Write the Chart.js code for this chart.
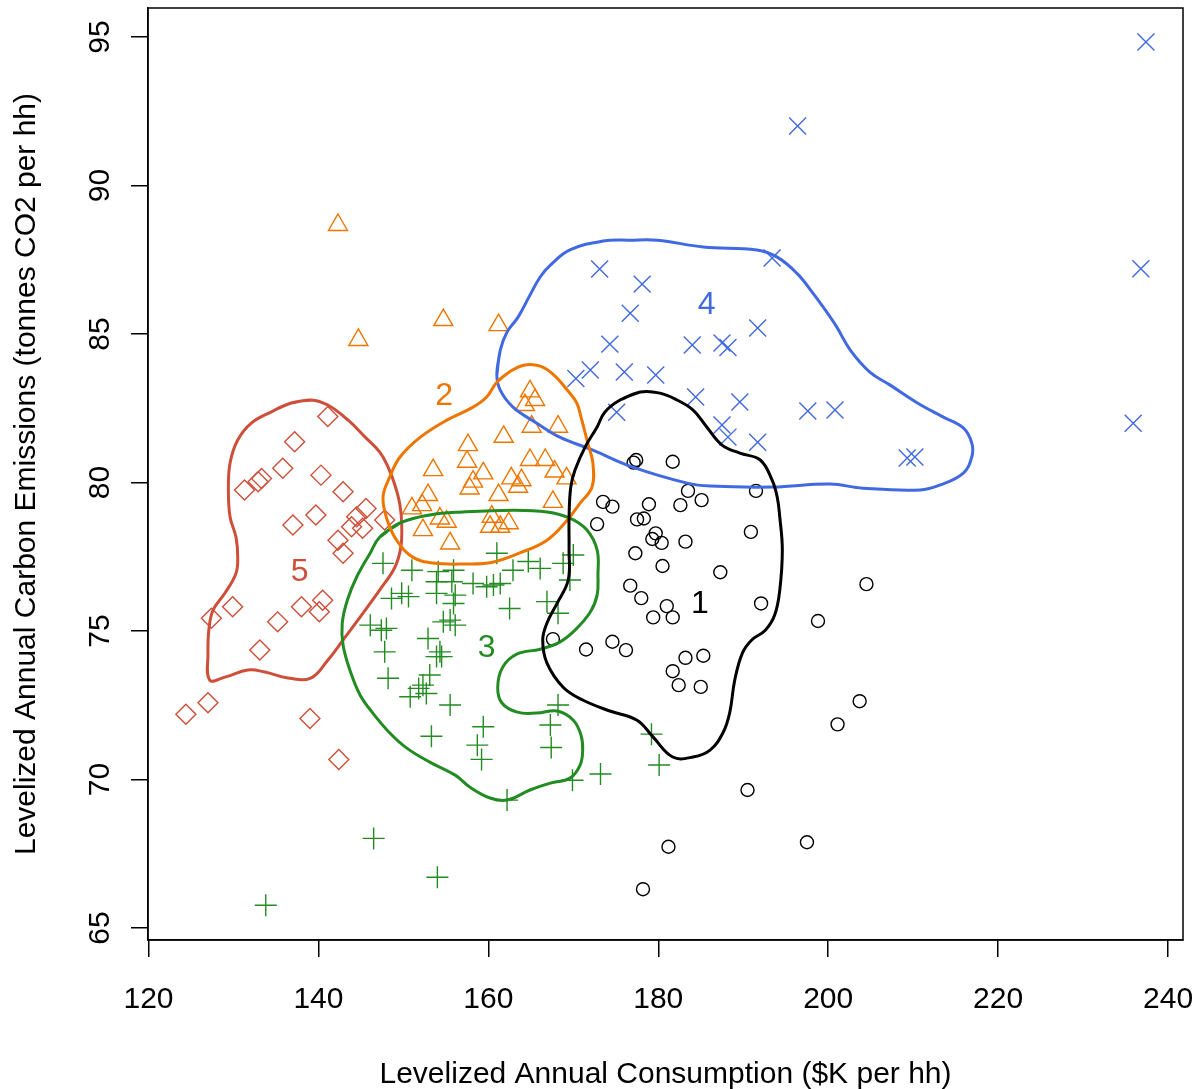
<!DOCTYPE html>
<html>
<head>
<meta charset="utf-8">
<script src="https://cdn.jsdelivr.net/npm/chart.js@4.4.1/dist/chart.umd.min.js"></script>
<style>
    html, body { margin: 0; padding: 0; background: #fff; }
</style>
</head>
<body>
<canvas id="cluster-chart" width="1195" height="1089"></canvas>
<script>
// axis ticks
const xTicks = [120, 140, 160, 180, 200, 220, 240]
const yTicks = [65, 70, 75, 80, 85, 90, 95]

// cluster names, label positions (data units) and colours
const clusterNames = ['1', '2', '3', '4', '5']
const labelX = [184.9, 154.8, 159.8, 185.7, 137.8]
const labelY = [75.91, 82.91, 74.43, 85.98, 76.99]
const clusterColors = ['#000000', '#EE7600', '#228B22', '#4169E1', '#CD4F39']
const pointStyles = ['circle', 'triangle', 'cross', 'crossRot', 'rectRot']
const pointSizes = [6.5, 11, 11, 12, 10]

// households, [consumption, emissions]
const points1 = [
    [177.4, 80.76], [177.1, 80.67], [181.7, 80.70], [183.5, 79.72], [185.1, 79.41], [182.6, 79.24],
    [191.5, 79.72], [173.5, 79.35], [174.6, 79.19], [178.9, 79.27], [177.5, 78.76], [178.3, 78.79],
    [172.8, 78.6], [179.7, 78.29], [179.3, 78.1], [180.4, 77.97], [183.2, 78.01], [190.9, 78.34],
    [177.3, 77.62], [180.5, 77.19], [187.3, 76.98], [176.7, 76.53], [178.0, 76.11], [181.0, 75.84],
    [179.4, 75.46], [181.7, 75.46], [192.1, 75.93], [174.6, 74.64], [176.2, 74.36], [171.5, 74.38],
    [183.2, 74.1], [185.3, 74.17], [181.7, 73.65], [182.4, 73.18], [185.0, 73.12], [198.8, 75.34],
    [203.7, 72.64], [201.1, 71.86], [190.5, 69.65], [181.2, 67.74], [197.5, 67.89], [178.2, 66.31],
    [204.5, 76.58], [167.6, 74.73]
]
const points2 = [
    [142.3, 88.67], [144.7, 84.8], [154.7, 85.47], [161.2, 85.3], [164.9, 83.07], [165.5, 82.78],
    [164.3, 82.61], [165.1, 81.88], [168.2, 81.88], [161.8, 81.54], [157.6, 81.26], [157.5, 80.70],
    [153.5, 80.42], [164.9, 80.76], [166.7, 80.76], [159.4, 80.31], [167.8, 80.37], [169.2, 80.14],
    [158.2, 80.03], [162.7, 80.14], [163.9, 80.08], [163.5, 79.86], [161.2, 79.58], [157.8, 79.80],
    [152.9, 79.58], [152.2, 79.24], [151.0, 79.13], [167.6, 79.35], [154.3, 78.79], [155.1, 78.68],
    [152.3, 78.4], [160.4, 78.85], [160.2, 78.51], [161.4, 78.51], [162.4, 78.63], [155.5, 77.95]
]
const points3 = [
    [161.0, 77.62], [147.6, 77.28], [151.0, 77.05], [154.1, 77.0], [155.9, 77.05], [162.9, 77.05],
    [166.1, 77.11], [168.8, 77.28], [170.0, 77.56], [153.9, 76.66], [155.7, 76.66], [158.2, 76.60],
    [160.6, 76.55], [159.8, 76.49], [161.4, 76.6], [164.7, 77.34], [149.8, 76.27], [148.6, 76.1],
    [150.6, 76.16], [153.9, 76.27], [156.1, 76.21], [155.9, 75.93], [169.6, 76.72], [162.5, 75.76],
    [166.9, 75.99], [168.2, 75.6], [154.7, 75.31], [155.5, 75.37], [156.1, 75.2], [146.1, 75.2],
    [147.4, 75.03], [148.0, 75.09], [147.8, 74.3], [152.9, 74.75], [153.9, 74.14], [154.5, 74.14],
    [154.3, 74.3], [148.2, 73.41], [153.1, 73.52], [152.3, 73.18], [151.8, 73.07], [150.8, 72.79],
    [152.7, 72.9], [155.5, 72.51], [168.2, 72.51], [167.3, 71.84], [159.4, 71.78], [153.3, 71.46],
    [158.7, 71.16], [159.2, 70.68], [167.4, 71.08], [162.2, 69.31], [169.9, 69.98], [173.2, 70.19],
    [146.5, 68.02], [154.0, 66.71], [179.2, 71.53], [180.1, 70.49], [133.8, 65.77]
]
const points4 = [
    [237.4, 94.83], [196.4, 92.0], [236.8, 87.2], [235.9, 82.0], [193.4, 87.56], [173.1, 87.19],
    [178.1, 86.68], [176.7, 85.7], [174.3, 84.66], [184.0, 84.63], [187.5, 84.7], [188.2, 84.55],
    [191.7, 85.2], [172.0, 83.79], [170.3, 83.5], [176.0, 83.72], [179.7, 83.62], [184.4, 82.88],
    [175.1, 82.37], [189.6, 82.71], [197.6, 82.41], [200.8, 82.44], [187.5, 81.94], [188.2, 81.53],
    [191.7, 81.36], [209.3, 80.83], [210.2, 80.86]
]
const points5 = [
    [141.1, 82.22], [137.2, 81.37], [135.8, 80.48], [140.3, 80.25], [133.3, 80.14], [132.9, 80.03],
    [131.3, 79.75], [142.9, 79.69], [139.7, 78.91], [137.0, 78.57], [145.6, 79.13], [144.5, 78.85],
    [143.9, 78.51], [145.2, 78.46], [147.8, 78.74], [142.3, 78.06], [142.9, 77.62], [127.4, 75.43],
    [129.9, 75.82], [135.2, 75.31], [138.0, 75.82], [140.5, 76.04], [140.1, 75.65], [133.1, 74.36],
    [127.0, 72.59], [124.4, 72.2], [139.0, 72.06], [142.4, 70.68]
]

// density contours around each cluster
const contour1 = [
    [177.9, 83.05], [175.5, 82.78], [173.7, 82.37], [172.8, 81.87], [171.4, 81.2], [170.2, 80.42],
    [169.7, 79.85], [169.5, 78.84], [169.5, 77.73], [169.4, 76.72], [168.1, 75.94], [166.9, 75.27],
    [166.4, 74.7], [166.9, 73.92], [168.8, 73.11], [171.1, 72.68], [174.3, 72.31], [177.5, 72.0],
    [179.4, 71.43], [181.7, 70.76], [184.1, 70.76], [186.1, 70.99], [187.6, 71.57], [188.4, 72.24],
    [189.0, 73.35], [189.9, 74.26], [191.0, 74.7], [192.6, 75.03], [193.7, 75.54], [194.3, 76.38],
    [194.6, 77.73], [194.3, 78.84], [194.0, 79.51], [193.4, 80.08], [192.0, 80.76], [189.6, 80.99],
    [187.5, 81.26], [185.7, 81.87], [184.1, 82.44], [182.2, 82.78], [180.2, 83.01]
]
const contour2 = [
    [161.0, 83.38], [162.6, 83.75], [164.3, 83.96], [166.1, 83.92], [167.6, 83.65], [169.3, 83.11],
    [170.4, 82.68], [171.0, 82.1], [171.7, 81.33], [172.3, 80.66], [172.2, 79.85], [170.8, 79.31],
    [169.3, 78.74], [166.9, 78.06], [163.7, 77.63], [160.5, 77.32], [157.5, 77.26], [153.5, 77.29],
    [151.1, 77.49], [149.2, 78.06], [148.1, 78.74], [147.6, 79.51], [148.4, 80.19], [149.6, 80.86],
    [152.0, 81.53], [155.1, 82.1], [158.2, 82.54], [159.8, 82.88]
]
const contour3 = [
    [147.2, 78.16], [149.6, 78.64], [153.1, 78.91], [157.0, 79.01], [162.9, 79.07], [166.9, 79.01],
    [169.6, 78.8], [171.6, 78.4], [172.8, 77.73], [172.9, 76.89], [172.8, 76.21], [172.0, 75.64],
    [170.2, 75.03], [168.4, 74.63], [166.1, 74.39], [163.4, 74.23], [161.7, 73.79], [161.1, 73.11],
    [161.6, 72.58], [163.4, 72.27], [165.7, 72.24], [168.1, 72.31], [170.0, 72.0], [170.9, 71.5],
    [171.1, 70.99], [170.8, 70.49], [169.6, 70.05], [167.3, 69.88], [164.9, 69.65], [162.2, 69.31],
    [160.2, 69.38], [157.8, 69.75], [156.1, 70.15], [153.1, 70.59], [150.4, 71.06], [148.4, 71.57],
    [146.4, 72.24], [144.9, 72.85], [143.7, 73.69], [142.9, 74.53], [142.8, 75.27], [143.4, 76.04],
    [144.5, 76.82], [146.1, 77.63]
]
const contour4 = [
    [161.0, 83.62], [161.4, 84.46], [162.2, 85.07], [163.5, 85.57], [164.9, 86.31], [166.1, 86.92],
    [167.3, 87.32], [169.6, 87.83], [173.5, 88.13], [176.7, 88.16], [179.9, 88.16], [185.3, 87.93],
    [191.6, 87.83], [194.0, 87.59], [196.3, 87.05], [198.2, 86.38], [199.9, 85.71], [201.0, 85.24],
    [202.6, 84.46], [204.9, 83.72], [207.3, 83.28], [210.5, 82.68], [213.5, 82.21], [215.9, 81.84],
    [216.9, 81.33], [216.9, 80.86], [215.9, 80.32], [213.2, 79.92], [210.8, 79.75], [204.1, 79.81],
    [200.2, 79.95], [193.5, 79.85], [186.1, 79.88], [183.4, 79.98], [177.0, 80.52], [172.3, 81.09],
    [168.4, 81.53], [165.7, 82.0], [162.9, 82.54], [161.4, 83.11]
]
const contour5 = [
    [139.1, 82.78], [136.8, 82.68], [134.4, 82.37], [132.1, 82.0], [130.5, 81.43], [129.6, 80.66],
    [129.4, 79.75], [129.6, 78.84], [130.3, 78.16], [130.5, 77.49], [130.3, 76.95], [129.0, 76.28],
    [127.6, 75.71], [127.1, 75.03], [127.0, 74.26], [127.2, 73.35], [129.0, 73.45], [131.7, 73.69],
    [133.7, 73.62], [136.4, 73.42], [139.1, 73.42], [141.1, 74.02], [142.9, 74.7], [144.9, 75.47],
    [147.2, 76.38], [149.0, 77.15], [149.7, 77.83], [149.8, 78.57], [149.6, 79.24], [149.0, 79.92],
    [148.2, 80.52], [147.2, 81.03], [145.5, 81.53], [143.5, 82.1], [141.1, 82.61]
]

const allPoints = [points1, points2, points3, points4, points5]
const allContours = [contour1, contour2, contour3, contour4, contour5]

const toXY = arr => arr.map(p => ({ x: p[0], y: p[1] }))

const datasets = []
allContours.forEach((c, i) => {
    datasets.push({
        label: 'contour ' + clusterNames[i],
        data: toXY(c.concat([c[0], c[1]])),
        showLine: true,
        borderColor: clusterColors[i],
        borderWidth: 3,
        pointRadius: 0,
        tension: 0.4,
        fill: false,
        order: 0
    })
})
allPoints.forEach((pts, i) => {
    datasets.push({
        label: 'cluster ' + clusterNames[i],
        data: toXY(pts),
        pointStyle: pointStyles[i],
        pointRadius: pointSizes[i],
        pointBorderColor: clusterColors[i],
        pointBackgroundColor: 'rgba(0,0,0,0)',
        pointBorderWidth: 1.4,
        showLine: false,
        order: 1
    })
})

// box round the plot region plus the cluster numbers
const plotExtras = {
    id: 'plotExtras',
    afterDatasetsDraw(chart) {
        const { ctx, chartArea, scales } = chart
        ctx.save()
        ctx.font = '32px "Liberation Sans", Arial, sans-serif'
        ctx.textAlign = 'center'
        ctx.textBaseline = 'middle'
        clusterNames.forEach((name, i) => {
            ctx.fillStyle = clusterColors[i]
            ctx.fillText(name, scales.x.getPixelForValue(labelX[i]), scales.y.getPixelForValue(labelY[i]))
        })
        ctx.strokeStyle = '#000'
        ctx.lineWidth = 1.5
        ctx.strokeRect(chartArea.left, chartArea.top, chartArea.right - chartArea.left, chartArea.bottom - chartArea.top)
        ctx.restore()
    }
}

const fontFamily = '"Liberation Sans", Arial, sans-serif'

const context = document.getElementById('cluster-chart').getContext('2d')

const chartClusters = new Chart(context, {
    type: 'scatter',
    data: { datasets: datasets },
    options: {
        responsive: false,
        animation: false,
        layout: { autoPadding: false, padding: { top: 8, right: 12, left: 0, bottom: 0 } },
        plugins: {
            legend: { display: false },
            tooltip: { enabled: false }
        },
        scales: {
            x: {
                type: 'linear',
                min: 119.94,
                max: 241.76,
                afterBuildTicks: scale => { scale.ticks = xTicks.map(v => ({ value: v })) },
                afterFit: scale => {
                    scale.height = 149
                    scale.paddingLeft = 0
                    scale.paddingRight = 0
                },
                grid: { drawOnChartArea: false, drawTicks: true, tickLength: 17, color: '#000', lineWidth: 1.5 },
                border: { display: true, color: '#000', width: 1.5 },
                ticks: {
                    color: '#000',
                    padding: 25,
                    maxRotation: 0,
                    font: { family: fontFamily, size: 30 }
                },
                title: {
                    display: true,
                    text: 'Levelized Annual Consumption ($K per hh)',
                    color: '#000',
                    font: { family: fontFamily, size: 30 },
                    padding: { top: 0, bottom: -4 }
                }
            },
            y: {
                type: 'linear',
                min: 64.60,
                max: 95.976,
                afterBuildTicks: scale => { scale.ticks = yTicks.map(v => ({ value: v })) },
                afterFit: scale => {
                    scale.width = 148
                    scale.paddingTop = 0
                    scale.paddingBottom = 0
                },
                grid: { drawOnChartArea: false, drawTicks: true, tickLength: 17, color: '#000', lineWidth: 1.5 },
                border: { display: true, color: '#000', width: 1.5 },
                ticks: {
                    color: '#000',
                    padding: 14,
                    minRotation: 90,
                    maxRotation: 90,
                    crossAlign: 'center',
                    font: { family: fontFamily, size: 30 }
                },
                title: {
                    display: true,
                    text: 'Levelized Annual Carbon Emissions (tonnes CO2 per hh)',
                    color: '#000',
                    font: { family: fontFamily, size: 30 },
                    padding: { top: 9, bottom: 0 }
                }
            }
        }
    },
    plugins: [plotExtras]
})
</script>
</body>
</html>
